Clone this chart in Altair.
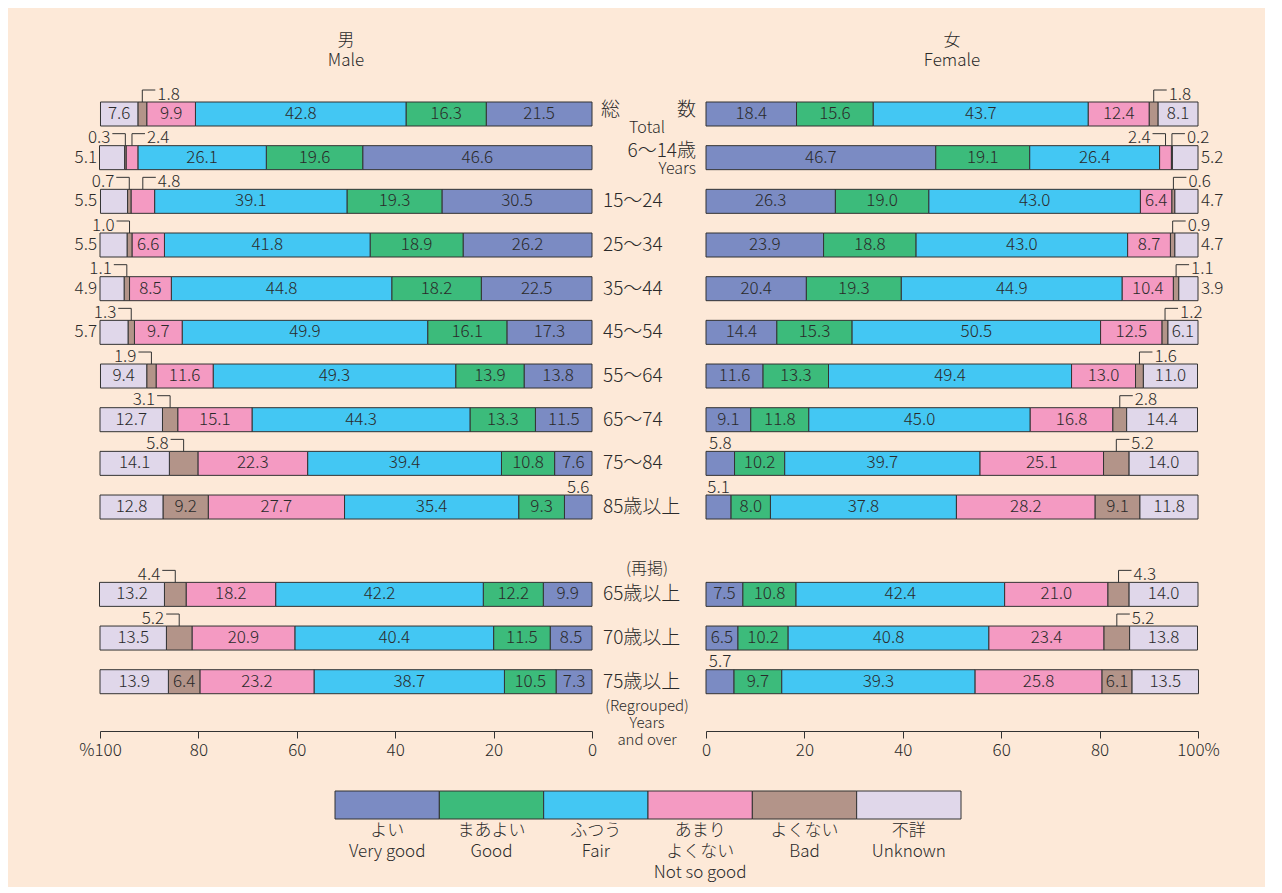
import altair as alt
import pandas as pd

# ---------------- data ----------------
age_groups = ["総数", "6〜14歳", "15〜24", "25〜34", "35〜44", "45〜54", "55〜64",
              "65〜74", "75〜84", "85歳以上", "65歳以上", "70歳以上", "75歳以上"]
levels = ["よい", "まあよい", "ふつう", "あまりよくない", "よくない", "不詳"]
level_labels = ["よい\nVery good", "まあよい\nGood", "ふつう\nFair",
                "あまり\nよくない\nNot so good", "よくない\nBad", "不詳\nUnknown"]
level_colors = ["#7B8BC3", "#3CBB7B", "#43C7F3", "#F49AC2", "#B39489", "#E0D7EA"]

male_very_good = [21.5, 46.6, 30.5, 26.2, 22.5, 17.3, 13.8, 11.5, 7.6, 5.6, 9.9, 8.5, 7.3]
male_good = [16.3, 19.6, 19.3, 18.9, 18.2, 16.1, 13.9, 13.3, 10.8, 9.3, 12.2, 11.5, 10.5]
male_fair = [42.8, 26.1, 39.1, 41.8, 44.8, 49.9, 49.3, 44.3, 39.4, 35.4, 42.2, 40.4, 38.7]
male_not_so_good = [9.9, 2.4, 4.8, 6.6, 8.5, 9.7, 11.6, 15.1, 22.3, 27.7, 18.2, 20.9, 23.2]
male_bad = [1.8, 0.3, 0.7, 1.0, 1.1, 1.3, 1.9, 3.1, 5.8, 9.2, 4.4, 5.2, 6.4]
male_unknown = [7.6, 5.1, 5.5, 5.5, 4.9, 5.7, 9.4, 12.7, 14.1, 12.8, 13.2, 13.5, 13.9]

female_very_good = [18.4, 46.7, 26.3, 23.9, 20.4, 14.4, 11.6, 9.1, 5.8, 5.1, 7.5, 6.5, 5.7]
female_good = [15.6, 19.1, 19.0, 18.8, 19.3, 15.3, 13.3, 11.8, 10.2, 8.0, 10.8, 10.2, 9.7]
female_fair = [43.7, 26.4, 43.0, 43.0, 44.9, 50.5, 49.4, 45.0, 39.7, 37.8, 42.4, 40.8, 39.3]
female_not_so_good = [12.4, 2.4, 6.4, 8.7, 10.4, 12.5, 13.0, 16.8, 25.1, 28.2, 21.0, 23.4, 25.8]
female_bad = [1.8, 0.2, 0.6, 0.9, 1.1, 1.2, 1.6, 2.8, 5.2, 9.1, 4.3, 5.2, 6.1]
female_unknown = [8.1, 5.2, 4.7, 4.7, 3.9, 6.1, 11.0, 14.4, 14.0, 11.8, 14.0, 13.8, 13.5]

# ---------------- layout constants ----------------
FONT = "Noto Sans CJK JP"
FW = 300
TXT = "#2a2a2a"
BG = "#FDE9D8"
PANEL_W = 492
MID_W = 114
PLOT_H = 645
ROW_PX = 43.67
ROW0_PX = 28
BAR_PX = 24
X_PX = PANEL_W / 100.0
R_TOP = -ROW0_PX / ROW_PX
R_BOT = (PLOT_H - ROW0_PX) / ROW_PX
HALF = BAR_PX / 2 / ROW_PX
LEAD_H = 12 / ROW_PX
LEAD_W = 13 / X_PX
TXT_LIFT = 2.5 / ROW_PX
INSIDE_MIN = 6.0

yscale = alt.Scale(domain=[R_TOP, R_BOT], reverse=True, nice=False, zero=False)


def row_of(i):
    return i if i < 10 else i + 1


def build(sex, series):
    recs = []
    for i, g in enumerate(age_groups):
        cum = 0.0
        r = row_of(i)
        for k, lv in enumerate(levels):
            v = series[k][i]
            x0, x1 = cum, cum + v
            cum = x1
            c = (x0 + x1) / 2
            if v >= INSIDE_MIN:
                place = "in"
            elif k == 5:
                place = "end"
            elif k == 0:
                place = "above"
            else:
                # direction in screen pixels
                if sex == "male":
                    place = "lead_l" if (k == 4 and i > 0) else "lead_r"
                else:
                    place = "lead_l" if k == 3 else "lead_r"
            if sex == "male":
                end = c + LEAD_W if place == "lead_l" else c - LEAD_W
            else:
                end = c - LEAD_W if place == "lead_l" else c + LEAD_W
            recs.append(dict(group=g, row=r, level=lv, value=v, x0=x0, x1=x1, xc=c,
                             ytop=r - HALF, ybot=r + HALF, yh=r - HALF - LEAD_H,
                             ytxt=r - HALF - TXT_LIFT, xend=end, place=place,
                             xfull=100.0))
    return pd.DataFrame(recs)


male_df = build("male", [male_very_good, male_good, male_fair, male_not_so_good, male_bad, male_unknown])
female_df = build("female", [female_very_good, female_good, female_fair, female_not_so_good, female_bad, female_unknown])

color_scale = alt.Scale(domain=levels, range=level_colors)


def panel(df, sex):
    rev = sex == "male"
    xs = alt.Scale(domain=[0, 100], reverse=rev, nice=False, zero=False)
    if rev:
        lab = "datum.value == 100 ? '%100' : datum.label"
    else:
        lab = "datum.value == 100 ? '100%' : datum.label"
    base = alt.Chart(df)
    bars = base.mark_rect(stroke="#333333", strokeWidth=1).encode(
        x=alt.X("x0:Q", scale=xs, axis=alt.Axis(values=[0, 20, 40, 60, 80, 100], labelExpr=lab,
                                                 title=None, grid=False, domainColor="#333333",
                                                 tickColor="#333333", tickSize=7, labelFontSize=17,
                                                 labelFont=FONT, labelFontWeight=FW, labelColor=TXT,
                                                 labelPadding=4, labelFlush=False, labelOverlap=False)),
        x2="x1:Q",
        y=alt.Y("ytop:Q", scale=yscale, axis=None),
        y2="ybot:Q",
        color=alt.Color("level:N", scale=color_scale, legend=None),
    )
    tkw = dict(font=FONT, fontSize=17, color=TXT, fontWeight=FW)
    inside = base.transform_filter("datum.place == 'in'").mark_text(
        align="center", baseline="middle", **tkw).encode(
        x="xc:Q", y="row:Q", text=alt.Text("value:Q", format=".1f"))
    endt = base.transform_filter("datum.place == 'end'").mark_text(
        align="right" if rev else "left", baseline="middle", dx=-3 if rev else 3, **tkw).encode(
        x="xfull:Q", y="row:Q", text=alt.Text("value:Q", format=".1f"))
    above = base.transform_filter("datum.place == 'above'").mark_text(
        align="center", baseline="alphabetic", **tkw).encode(
        x="xc:Q", y="ytxt:Q", text=alt.Text("value:Q", format=".1f"))
    leads = base.transform_filter("indexof(datum.place, 'lead') == 0")
    vrule = leads.mark_rule(color="#333333", strokeWidth=1).encode(
        x="xc:Q", y="ytop:Q", y2="yh:Q")
    hrule = leads.mark_rule(color="#333333", strokeWidth=1).encode(
        x="xc:Q", x2="xend:Q", y="yh:Q")
    tl = base.transform_filter("datum.place == 'lead_l'").mark_text(
        align="right", baseline="alphabetic", dx=-2, **tkw).encode(
        x="xend:Q", y="ytxt:Q", text=alt.Text("value:Q", format=".1f"))
    tr = base.transform_filter("datum.place == 'lead_r'").mark_text(
        align="left", baseline="alphabetic", dx=2, **tkw).encode(
        x="xend:Q", y="ytxt:Q", text=alt.Text("value:Q", format=".1f"))
    title = ["男", "Male"] if rev else ["女", "Female"]
    return alt.layer(bars, inside, endt, above, vrule, hrule, tl, tr).properties(
        width=PANEL_W, height=PLOT_H,
        title=alt.TitleParams(title, font=FONT, fontSize=17, fontWeight=FW, color=TXT,
                              anchor="middle", lineHeight=20, offset=16))


male_chart = panel(male_df, "male")
female_chart = panel(female_df, "female")

# ---------------- middle labels ----------------
mid_rows = pd.DataFrame({"label": age_groups, "row": [row_of(i) for i in range(len(age_groups))]})
mbase = alt.Chart(mid_rows)
mfont = dict(font=FONT, color=TXT, fontWeight=FW)
plain = mbase.transform_filter("datum.row >= 2").mark_text(
    align="left", baseline="middle", fontSize=19, **mfont).encode(
    x=alt.value(11), y=alt.Y("row:Q", scale=yscale, axis=None), text="label:N")
total_l = mbase.transform_filter("datum.row == 0").mark_text(
    align="left", baseline="middle", fontSize=19, dy=-4, **mfont).encode(
    x=alt.value(9), y=alt.Y("row:Q", scale=yscale), text=alt.value("総"))
total_r = mbase.transform_filter("datum.row == 0").mark_text(
    align="right", baseline="middle", fontSize=19, dy=-4, **mfont).encode(
    x=alt.value(104), y=alt.Y("row:Q", scale=yscale), text=alt.value("数"))
total_en = mbase.transform_filter("datum.row == 0").mark_text(
    align="center", baseline="middle", fontSize=16, dy=14, **mfont).encode(
    x=alt.value(55), y=alt.Y("row:Q", scale=yscale), text=alt.value("Total"))
kids = mbase.transform_filter("datum.row == 1").mark_text(
    align="right", baseline="middle", fontSize=19, dy=-7, **mfont).encode(
    x=alt.value(104), y=alt.Y("row:Q", scale=yscale), text="label:N")
kids_en = mbase.transform_filter("datum.row == 1").mark_text(
    align="right", baseline="middle", fontSize=16, dy=11, **mfont).encode(
    x=alt.value(104), y=alt.Y("row:Q", scale=yscale), text=alt.value("Years"))
regroup_ja = mbase.transform_filter("datum.row == 11").mark_text(
    align="center", baseline="middle", fontSize=16, dy=-25, **mfont).encode(
    x=alt.value(55), y=alt.Y("row:Q", scale=yscale), text=alt.value("(再掲)"))
regroup_en = mbase.transform_filter("datum.row == 13").mark_text(
    align="center", baseline="top", fontSize=15, dy=17, lineHeight=17, lineBreak="\n", **mfont).encode(
    x=alt.value(55), y=alt.Y("row:Q", scale=yscale), text=alt.value("(Regrouped)\nYears\nand over"))
mid_chart = alt.layer(plain, total_l, total_r, total_en, kids, kids_en, regroup_ja, regroup_en).properties(
    width=MID_W, height=PLOT_H,
    title=alt.TitleParams([" ", " "], font=FONT, fontSize=17, lineHeight=20, offset=16))

top = alt.hconcat(male_chart, mid_chart, female_chart, spacing=0, bounds="flush")

# ---------------- legend ----------------
leg_df = pd.DataFrame({"level": levels, "label": level_labels, "i": list(range(len(levels)))})
leg_df["i1"] = leg_df["i"] + 1
leg_df["ic"] = leg_df["i"] + 0.5
CELL_PX = 626 / 6.0
lx = alt.Scale(domain=[-(336 - 101) / CELL_PX, (1199 - 336) / CELL_PX], nice=False, zero=False)
lbase = alt.Chart(leg_df)
leg_rect = lbase.mark_rect(stroke="#333333", strokeWidth=1).encode(
    x=alt.X("i:Q", scale=lx, axis=None), x2="i1:Q",
    y=alt.value(0), y2=alt.value(28),
    color=alt.Color("level:N", scale=color_scale, legend=None))
leg_text = lbase.mark_text(align="center", baseline="top", fontSize=17, lineHeight=21,
                           lineBreak="\n", font=FONT, color=TXT, fontWeight=FW).encode(
    x=alt.X("ic:Q", scale=lx, axis=None), y=alt.value(32), text="label:N")
legend = alt.layer(leg_rect, leg_text).properties(width=PANEL_W * 2 + MID_W, height=92)

chart = alt.vconcat(top, legend, spacing=32).properties(
    background=BG,
    padding={"left": 66, "top": 23, "right": 41, "bottom": 4},
).configure_view(strokeWidth=0)

chart.save("out.html", embed_options={"renderer": "svg", "actions": False})
